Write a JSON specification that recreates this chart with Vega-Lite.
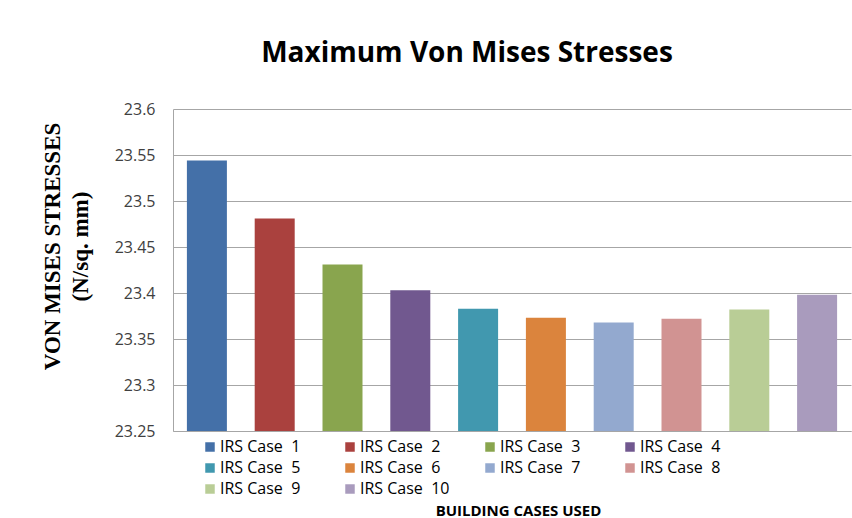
{
  "$schema": "https://vega.github.io/schema/vega-lite/v6.json",
  "width": 678,
  "height": 322,
  "autosize": {"type": "none"},
  "padding": {"left": 173, "top": 109, "right": 1, "bottom": 87},
  "background": "white",
  "title": {
    "text": "Maximum Von Mises Stresses",
    "font": "Open Sans",
    "fontSize": 28,
    "fontWeight": "bold",
    "color": "#000000",
    "anchor": "middle",
    "frame": "group",
    "dx": -45,
    "offset": 33
  },
  "data": {
    "values": [
      {"case": "IRS Case \u00a01", "stress": 23.544},
      {"case": "IRS Case \u00a02", "stress": 23.481},
      {"case": "IRS Case \u00a03", "stress": 23.431},
      {"case": "IRS Case \u00a04", "stress": 23.403},
      {"case": "IRS Case \u00a05", "stress": 23.383},
      {"case": "IRS Case \u00a06", "stress": 23.373},
      {"case": "IRS Case \u00a07", "stress": 23.368},
      {"case": "IRS Case \u00a08", "stress": 23.372},
      {"case": "IRS Case \u00a09", "stress": 23.382},
      {"case": "IRS Case \u00a010", "stress": 23.398}
    ]
  },
  "mark": {"type": "bar", "clip": true},
  "encoding": {
    "x": {
      "field": "case",
      "type": "nominal",
      "sort": null,
      "scale": {"paddingInner": 0.41, "paddingOuter": 0.205},
      "axis": {
        "title": "BUILDING CASES USED",
        "labels": false,
        "ticks": false,
        "domainColor": "#a6a6a6",
        "titleFont": "Open Sans",
        "titleFontSize": 15,
        "titleFontWeight": "bold",
        "titleColor": "#000000",
        "titlePadding": 72,
        "titleX": 345
      }
    },
    "y": {
      "field": "stress",
      "type": "quantitative",
      "scale": {"domain": [23.25, 23.6], "zero": false, "nice": false},
      "axis": {
        "title": ["VON MISES STRESSES", "(N/sq. mm)"],
        "titleFont": "Liberation Serif",
        "titleFontSize": 23,
        "titleFontWeight": "bold",
        "titleColor": "#000000",
        "titleLineHeight": 28,
        "titleX": -109,
        "titleY": 137,
        "titleAnchor": "middle",
        "values": [23.25, 23.3, 23.35, 23.4, 23.45, 23.5, 23.55, 23.6],
        "labelExpr": "datum.value",
        "labelFont": "Open Sans",
        "labelFontSize": 16,
        "labelColor": "#404040",
        "labelPadding": 18,
        "ticks": false,
        "grid": true,
        "gridColor": "#a6a6a6",
        "domainColor": "#a6a6a6"
      }
    },
    "color": {
      "field": "case",
      "type": "nominal",
      "sort": null,
      "scale": {
        "range": ["#4470a8", "#aa413e", "#89a54e", "#71588f", "#4198af", "#db843d", "#93a9cf", "#d19392", "#b9cd96", "#a99bbd"]
      },
      "legend": {
        "title": null,
        "orient": "none",
        "legendX": 29,
        "legendY": 330,
        "direction": "horizontal",
        "columns": 4,
        "gridAlign": "all",
        "symbolType": "square",
        "symbolSize": 90,
        "symbolStrokeWidth": 0,
        "labelFont": "Open Sans",
        "labelFontSize": 16,
        "labelColor": "#000000",
        "labelOffset": 2,
        "columnPadding": 32,
        "rowPadding": 5
      }
    }
  },
  "config": {"view": {"stroke": null}}
}
